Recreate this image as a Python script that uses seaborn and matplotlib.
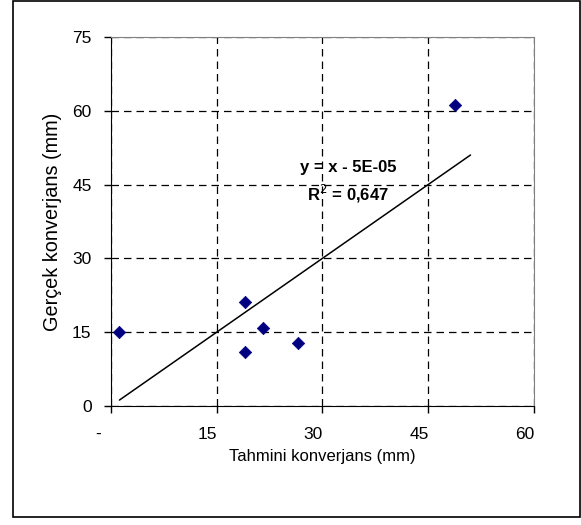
import numpy as np
import pandas as pd
import matplotlib.pyplot as plt
import matplotlib.transforms as mtransforms
import seaborn as sns
from matplotlib.patches import Rectangle

# Data
tahmini = [1.2, 19.0, 19.0, 21.5, 26.6, 48.8]
gercek = [15.1, 21.1, 10.9, 15.8, 12.8, 61.1]
trend_x = [1.2, 51.0]
x_ticks = [0, 15, 30, 45, 60]
x_labels = ["-", "15", "30", "45", "60"]
y_ticks = [0, 15, 30, 45, 60, 75]

df = pd.DataFrame({"Tahmini": tahmini, "Gercek": gercek})
trend = pd.DataFrame({"x": trend_x, "y": [v - 5e-05 for v in trend_x]})

sns.set_style("white")
plt.rcParams['font.family'] = ['Liberation Sans', 'DejaVu Sans']
plt.rcParams['text.color'] = 'black'
plt.rcParams['axes.labelcolor'] = 'black'
plt.rcParams['xtick.color'] = 'black'
plt.rcParams['ytick.color'] = 'black'

fig = plt.figure(figsize=(5.81, 5.25), dpi=100)
ax = fig.add_axes([0.191, 0.2267, 0.728, 0.703])

# Outer chart border
fig.patches.append(Rectangle((13 / 581, 8 / 525), 567 / 581, 516 / 525,
                             transform=fig.transFigure, fill=False,
                             edgecolor='black', linewidth=1.2))

sns.lineplot(data=trend, x="x", y="y", color='black', linewidth=1.1, ax=ax)
sns.scatterplot(data=df, x="Tahmini", y="Gercek", marker='D', s=40,
                color='#000080', edgecolor='#000080', zorder=3, ax=ax)

ax.set_xlim(0, 60)
ax.set_ylim(0, 75)
ax.set_xticks(x_ticks)
ax.set_xticklabels(x_labels)
ax.set_yticks(y_ticks)
ax.grid(True, color='black', linestyle=(0, (6, 4)), linewidth=0.9)
ax.tick_params(axis='both', direction='out', length=5, width=1, color='black',
               labelsize=12.5, bottom=True, left=True)
ax.tick_params(axis='x', pad=10)
ax.tick_params(axis='y', pad=9)

# Excel-style number format leaves the x labels a little left of their ticks
for lab in ax.get_xticklabels():
    dx = -13 if lab.get_text() == "-" else -9
    lab.set_transform(lab.get_transform() +
                      mtransforms.ScaledTranslation(dx / 100, 0, fig.dpi_scale_trans))

for side in ['top', 'right']:
    ax.spines[side].set_color('#808080')
for side in ['left', 'bottom']:
    ax.spines[side].set_color('black')

ax.set_xlabel("Tahmini konverjans (mm)", fontsize=12, labelpad=5)
ax.set_ylabel("Gerçek konverjans (mm)", fontsize=14.3, labelpad=7)

ax.text(33.6, 48.4, "y = x - 5E-05", fontsize=12, fontweight='bold', ha='center', va='center')
ax.text(33.6, 43.0, "R$^2$ = 0,647", fontsize=12, fontweight='bold', ha='center', va='center')

fig.savefig("out.png", dpi=100)
